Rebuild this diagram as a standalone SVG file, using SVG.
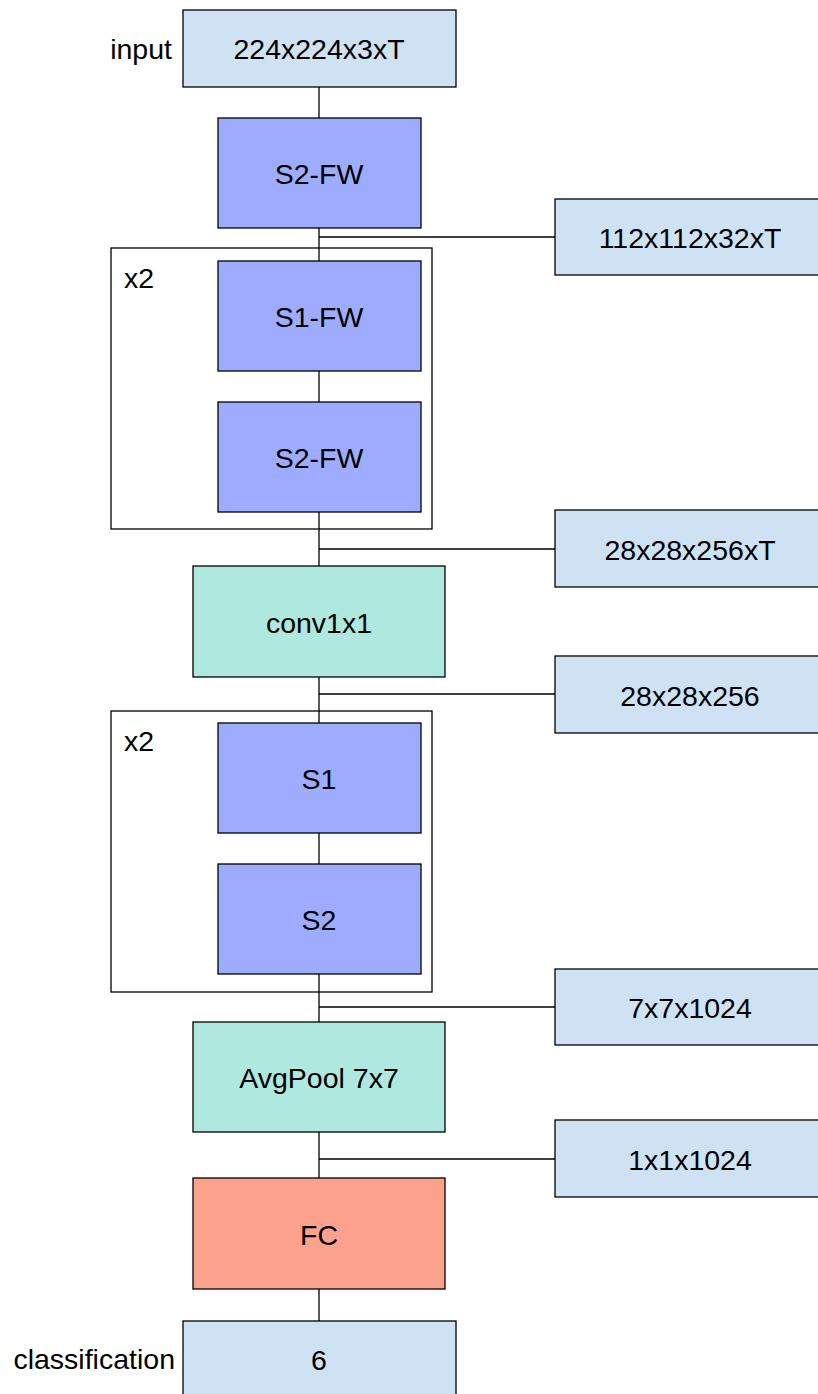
<svg xmlns="http://www.w3.org/2000/svg" width="818" height="1394" viewBox="0 0 818 1394">
<style>
text{font-family:"Liberation Sans",Arial,sans-serif;font-size:28.5px;fill:#000;}
.c{text-anchor:middle;dominant-baseline:central;}
.r{text-anchor:end;dominant-baseline:central;}
.io{fill:#cfe2f3;stroke:#000;stroke-width:1.3;}
.s{fill:#9eacff;stroke:#000;stroke-width:1.3;}
.t{fill:#aee8df;stroke:#000;stroke-width:1.3;}
.fc{fill:#fca18c;stroke:#000;stroke-width:1.3;}
.grp{fill:none;stroke:#000;stroke-width:1.3;}
.ln{fill:none;stroke:#000;stroke-width:1.3;}
</style>
<g id="connectors">
<path class="ln" d="M319 87V118M319 228V261M319 237H555M319 371V402M319 512V566M319 549H555M319 677V723M319 694H555M319 833V864M319 974V1022M319 1007H555M319 1132V1178M319 1159H555M319 1289V1321"/>
</g>
<g id="repeat1"><rect class="grp" x="111" y="248" width="321" height="281"/><text x="124" y="278" dominant-baseline="central">x2</text></g>
<g id="repeat2"><rect class="grp" x="111" y="711" width="321" height="281"/><text x="124" y="741" dominant-baseline="central">x2</text></g>
<g id="input"><rect class="io" x="183" y="10" width="273" height="77"/><text class="c" x="319" y="49">224x224x3xT</text><text class="r" x="172" y="49">input</text></g>
<g id="s2fw1"><rect class="s" x="218" y="118" width="203" height="110"/><text class="c" x="319" y="174">S2-FW</text></g>
<g id="out1"><rect class="io" x="555" y="199" width="275" height="76"/><text class="c" x="690" y="238">112x112x32xT</text></g>
<g id="s1fw"><rect class="s" x="218" y="261" width="203" height="110"/><text class="c" x="319" y="317">S1-FW</text></g>
<g id="s2fw2"><rect class="s" x="218" y="402" width="203" height="110"/><text class="c" x="319" y="458">S2-FW</text></g>
<g id="out2"><rect class="io" x="555" y="510" width="275" height="77"/><text class="c" x="690" y="550">28x28x256xT</text></g>
<g id="conv"><rect class="t" x="193" y="566" width="252" height="111"/><text class="c" x="319" y="623">conv1x1</text></g>
<g id="out3"><rect class="io" x="555" y="656" width="275" height="77"/><text class="c" x="690" y="696">28x28x256</text></g>
<g id="s1"><rect class="s" x="218" y="723" width="203" height="110"/><text class="c" x="319" y="779">S1</text></g>
<g id="s2"><rect class="s" x="218" y="864" width="203" height="110"/><text class="c" x="319" y="920">S2</text></g>
<g id="out4"><rect class="io" x="555" y="969" width="275" height="76"/><text class="c" x="690" y="1008">7x7x1024</text></g>
<g id="avgpool"><rect class="t" x="193" y="1022" width="252" height="110"/><text class="c" x="319" y="1078">AvgPool 7x7</text></g>
<g id="out5"><rect class="io" x="555" y="1120" width="275" height="77"/><text class="c" x="690" y="1160">1x1x1024</text></g>
<g id="fc"><rect class="fc" x="193" y="1178" width="252" height="111"/><text class="c" x="319" y="1235">FC</text></g>
<g id="classification"><rect class="io" x="183" y="1321" width="273" height="80"/><text class="c" x="319" y="1360">6</text><text class="r" x="175" y="1359">classification</text></g>
</svg>
